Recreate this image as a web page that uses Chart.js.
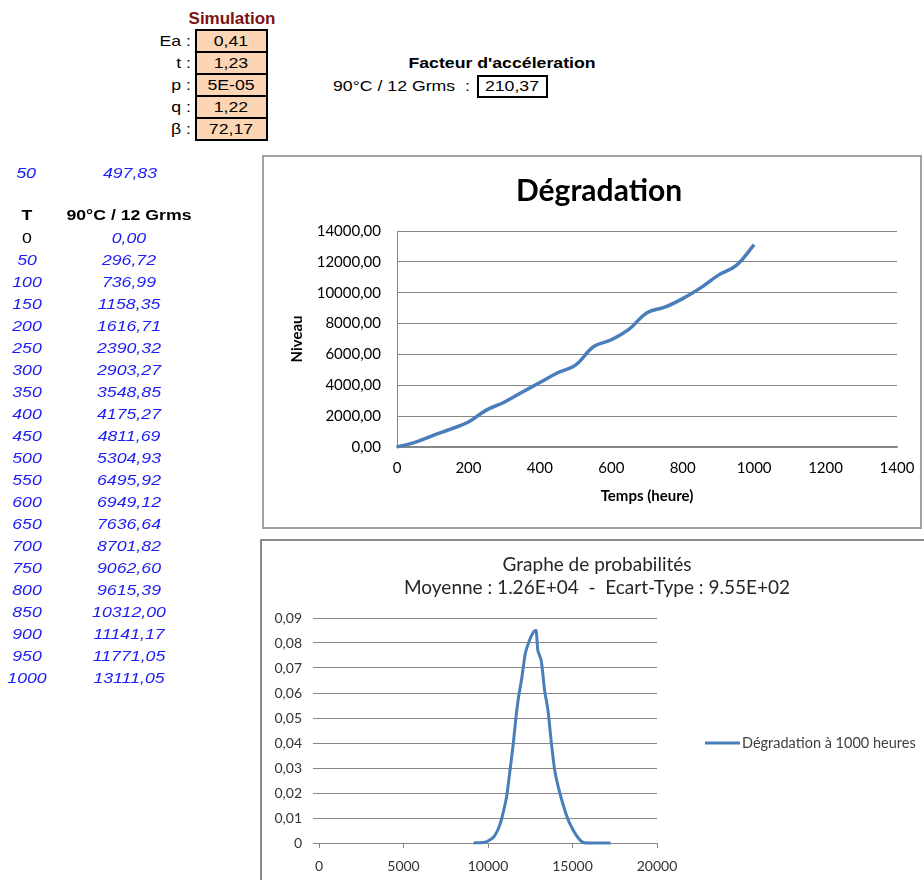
<!DOCTYPE html>
<html>
<head>
<meta charset="utf-8">
<script src="https://cdn.jsdelivr.net/npm/chart.js@4.4.1/dist/chart.umd.min.js"></script>
<style>
  body { margin: 0; width: 924px; height: 880px; overflow: hidden; background: #fff; position: relative;
         font-family: "Liberation Sans", Arial, sans-serif; }
  .cell { position: absolute; height: 22px; line-height: 22px; font-size: 15px; white-space: pre;
          transform: scaleX(1.18); color: #000; }
  .box { position: absolute; box-sizing: border-box; border: 2px solid #000; }
  .frame { position: absolute; box-sizing: border-box; }
  canvas { position: absolute; }
</style>
</head>
<body>
<div class="frame" style="left:262px;top:155px;width:660px;height:374px;border:2px solid #a3a3a3;"></div>
<canvas id="c1" width="656" height="370" style="left:264px;top:157px;"></canvas>
<div class="frame" style="left:260px;top:539px;width:700px;height:400px;border:2px solid #8a8a8a;"></div>
<canvas id="c2" width="662" height="339" style="left:262px;top:541px;"></canvas>

<script>
// simulation parameters
const simLabels = ['Ea :', 't :', 'p :', 'q :', 'β :'];
const simValues = ['0,41', '1,23', '5E-05', '1,22', '72,17'];

// acceleration factor
const factorLabel = '90°C / 12 Grms  :';
const factorValue = '210,37';

// single point row above the table
const extraHour = 50;
const extraLevel = 497.83;

// degradation over time (90°C / 12 Grms)
const hours = [0, 50, 100, 150, 200, 250, 300, 350, 400, 450, 500,
               550, 600, 650, 700, 750, 800, 850, 900, 950, 1000];
const level = [0.00, 296.72, 736.99, 1158.35, 1616.71, 2390.32, 2903.27, 3548.85, 4175.27, 4811.69, 5304.93,
               6495.92, 6949.12, 7636.64, 8701.82, 9062.60, 9615.39, 10312.00, 11141.17, 11771.05, 13111.05];

// probability curve
const probX = [9150, 9800, 10100, 10350, 10600, 10800, 11100, 11300, 11500, 11650, 11800, 12000, 12200,
               12450, 12700, 12850, 12950, 13150, 13350, 13550, 13750, 13950, 14250, 14700, 15050,
               15400, 15650, 16000, 17250];
const probY = [0, 0.0003, 0.0012, 0.0025, 0.0055, 0.0095, 0.0185, 0.029, 0.040, 0.050, 0.058, 0.066, 0.0755,
               0.081, 0.0845, 0.085, 0.077, 0.073, 0.061, 0.053, 0.040, 0.029, 0.020, 0.010, 0.005,
               0.0015, 0.0002, 0, 0];

const xTicks1 = { min: 0, max: 1400, step: 200 };
const yTicks1 = { min: 0, max: 14000, step: 2000 };
const xTicks2 = { min: 0, max: 20000, step: 5000 };
const yTicks2 = { min: 0, max: 0.09, step: 0.01 };

const fmt = (v) => v.toFixed(2).replace('.', ',');

function txt(s, x, y, align, style) {
  const d = document.createElement('div');
  d.className = 'cell';
  d.textContent = s;
  const w = 260;
  d.style.top = (y - 11) + 'px';
  d.style.width = w + 'px';
  d.style.textAlign = align;
  if (align === 'center') { d.style.left = (x - w / 2) + 'px'; d.style.transformOrigin = 'center'; }
  else if (align === 'right') { d.style.left = (x - w) + 'px'; d.style.transformOrigin = 'right'; }
  else { d.style.left = x + 'px'; d.style.transformOrigin = 'left'; }
  Object.assign(d.style, style || {});
  document.body.appendChild(d);
}

// simulation block
txt('Simulation', 232, 19, 'center', { fontWeight: 'bold', fontSize: '17px', color: '#7d1212', transform: 'none' });
simLabels.forEach((l, i) => {
  const top = 29 + i * 22;
  const b = document.createElement('div');
  b.className = 'box';
  Object.assign(b.style, { left: '195px', top: top + 'px', width: '73px', height: '24px', background: '#fcd5b4' });
  document.body.appendChild(b);
  txt(l, 191, top + 12, 'right');
  txt(simValues[i], 231, top + 12, 'center');
});

// acceleration factor block
txt("Facteur d'accéleration", 502, 63, 'center', { fontWeight: 'bold' });
txt(factorLabel, 333, 86, 'left');
const fb = document.createElement('div');
fb.className = 'box';
Object.assign(fb.style, { left: '477px', top: '75px', width: '71px', height: '23px', background: '#fff' });
document.body.appendChild(fb);
txt(factorValue, 512, 86, 'center');

// table
const blue = { color: '#1c1cf5', fontStyle: 'italic' };
txt(String(extraHour), 26, 173, 'center', blue);
txt(fmt(extraLevel), 130, 173, 'center', blue);
txt('T', 27, 215, 'center', { fontWeight: 'bold' });
txt('90°C / 12 Grms', 129, 215, 'center', { fontWeight: 'bold' });
hours.forEach((h, i) => {
  const y = 238 + i * 22;
  txt(String(h), 27, y, 'center', i === 0 ? {} : blue);
  txt(fmt(level[i]), 129, y, 'center', blue);
});

Chart.defaults.font.family = 'Lato';
Chart.defaults.color = '#000';
const gridGray = '#868686';
const lineBlue = '#4a7ebb';

// empty right-hand axis, only reserves room so the title stays centred on the whole frame
const spacer = (w) => ({
  position: 'right',
  display: true,
  ticks: { display: false },
  grid: { display: false, drawTicks: false },
  border: { display: false },
  afterFit: (s) => { s.width = w; },
});

new Chart(document.getElementById('c1'), {
  type: 'line',
  data: {
    datasets: [{
      label: 'Dégradation',
      data: hours.map((h, i) => ({ x: h, y: level[i] })),
      borderColor: lineBlue,
      borderWidth: 3.5,
      pointRadius: 0,
      tension: 0.4,
      clip: 4,
    }],
  },
  options: {
    responsive: false,
    animation: false,
    layout: { padding: { left: 14, right: 0, top: 0, bottom: 0 } },
    plugins: {
      legend: { display: false },
      tooltip: { enabled: false },
      title: {
        display: true,
        text: 'Dégradation',
        color: '#000',
        font: { size: 30, weight: 'bold' },
        padding: { top: 16, bottom: 22 },
      },
    },
    scales: {
      x: {
        type: 'linear',
        min: xTicks1.min, max: xTicks1.max,
        ticks: { stepSize: xTicks1.step, padding: 12, font: { size: 15 }, callback: (v) => String(v) },
        grid: { display: false, drawTicks: false },
        border: { display: true, color: gridGray, width: 1.5 },
        title: { display: true, text: 'Temps (heure)', font: { size: 15, weight: 'bold' }, padding: { top: 0, bottom: 22 } },
        afterFit: (s) => { s.height = 80; s.paddingLeft = 0; s.paddingRight = 0; },
      },
      y: {
        min: yTicks1.min, max: yTicks1.max,
        ticks: { stepSize: yTicks1.step, padding: 16, font: { size: 15 }, callback: (v) => fmt(v) },
        grid: { color: gridGray, drawTicks: false },
        border: { display: true, color: gridGray },
        title: { display: true, text: 'Niveau', font: { size: 15, weight: 'bold' }, padding: { top: 10, bottom: 0 } },
        afterFit: (s) => { s.width = 119; },
      },
      yPad: spacer(23),
    },
  },
});

// legend drawn beside the plot, like the spreadsheet one
const sideLegend = {
  id: 'sideLegend',
  afterDraw(chart, args, opts) {
    const { ctx, chartArea } = chart;
    const ds = chart.data.datasets[0];
    const x0 = chartArea.right + opts.dx;
    const y = chartArea.top + opts.dy;
    ctx.save();
    ctx.strokeStyle = ds.borderColor;
    ctx.lineWidth = 3;
    ctx.beginPath();
    ctx.moveTo(x0, y);
    ctx.lineTo(x0 + opts.len, y);
    ctx.stroke();
    ctx.fillStyle = '#404040';
    ctx.font = '14.5px Lato';
    ctx.textBaseline = 'middle';
    ctx.fillText(ds.label, x0 + opts.len + 2, y);
    ctx.restore();
  },
};

new Chart(document.getElementById('c2'), {
  type: 'line',
  data: {
    datasets: [{
      label: 'Dégradation à 1000 heures',
      data: probX.map((x, i) => ({ x: x, y: probY[i] })),
      borderColor: lineBlue,
      borderWidth: 3,
      pointRadius: 0,
      tension: 0.2,
      clip: 4,
    }],
  },
  options: {
    responsive: false,
    animation: false,
    layout: { padding: { left: 8, right: 0, top: 0, bottom: 0 } },
    plugins: {
      legend: { display: false },
      tooltip: { enabled: false },
      title: {
        display: true,
        text: ['Graphe de probabilités', 'Moyenne : 1.26E+04  -  Ecart-Type : 9.55E+02'],
        color: '#262626',
        font: { size: 19, weight: 'normal', lineHeight: 23 / 19 },
        padding: { top: 12.5, bottom: 18.5 },
      },
      sideLegend: { dx: 48, dy: 125, len: 35 },
    },
    scales: {
      x: {
        type: 'linear',
        min: xTicks2.min, max: xTicks2.max,
        ticks: { stepSize: xTicks2.step, padding: 9.6, color: '#333', font: { size: 14 }, callback: (v) => String(v) },
        grid: { drawOnChartArea: false, drawTicks: true, tickLength: 5, color: gridGray },
        border: { display: true, color: gridGray },
        afterFit: (s) => { s.height = 37; s.paddingLeft = 0; s.paddingRight = 0; },
      },
      y: {
        min: yTicks2.min, max: yTicks2.max,
        ticks: { stepSize: yTicks2.step, padding: 11, color: '#333', font: { size: 14 },
                 callback: (v) => (v === 0 ? '0' : fmt(v)) },
        grid: { color: gridGray, drawTicks: true, tickLength: 6 },
        border: { display: false },
        afterFit: (s) => { s.width = 49; },
      },
      yPad: spacer(267),
    },
  },
  plugins: [sideLegend],
});
</script>
</body>
</html>
